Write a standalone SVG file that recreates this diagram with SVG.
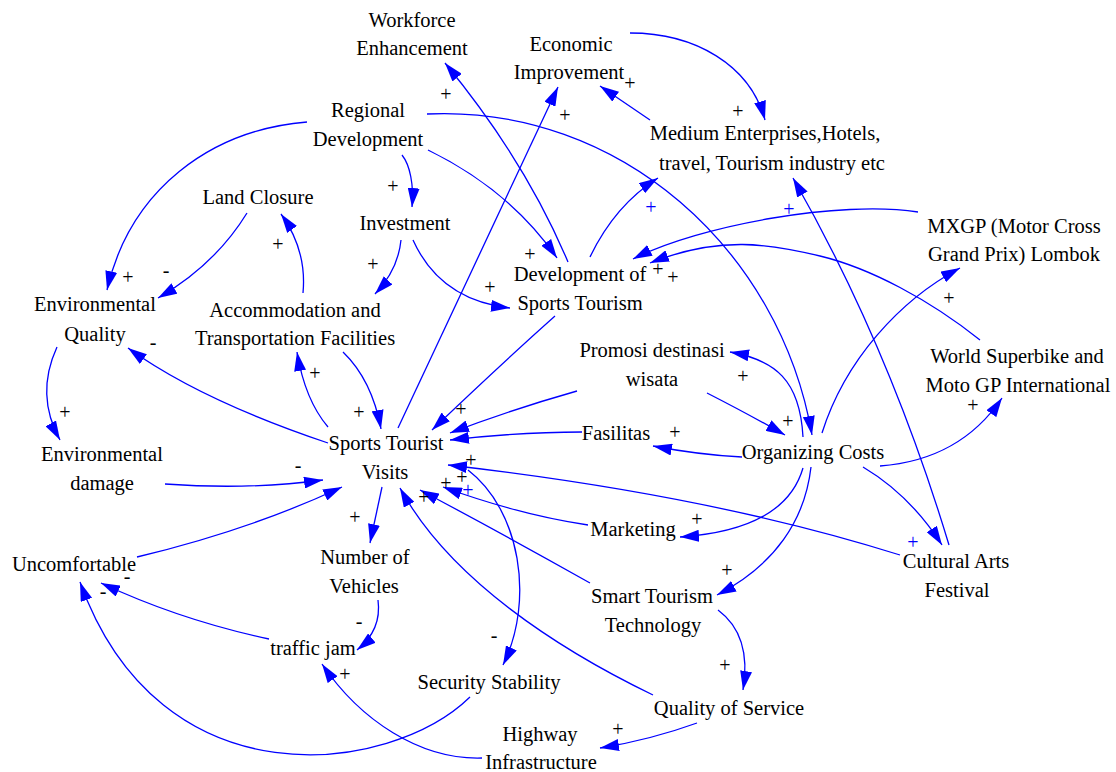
<svg xmlns="http://www.w3.org/2000/svg" width="1116" height="772" viewBox="0 0 1116 772">
<defs>
<style>
.n{font-family:"Liberation Serif","Times New Roman",serif;font-size:20.5px;fill:#000;text-anchor:middle}
.e{fill:none;stroke:#0000FF;stroke-width:1.3;marker-end:url(#ah)}
.p{font-family:"Liberation Serif","Times New Roman",serif;font-size:20px;fill:#000;text-anchor:middle}
.pb{fill:#0000FF}
</style>
<marker id="ah" viewBox="0 0 19 12" refX="19" refY="6" markerWidth="19" markerHeight="12" markerUnits="userSpaceOnUse" orient="auto">
<path d="M0,0 L19,6 L0,12 z" fill="#0000FF"/>
</marker>
</defs>
<rect width="1116" height="772" fill="#fff"/>
<g id="connectors">
<path class="e" d="M307,122 C210,130 130,190 107,290"/>
<path class="e" d="M402,155 C410,165 414,185 412,207"/>
<path class="e" d="M428,150 Q510,190 557,258"/>
<path class="e" d="M427,114 C620,105 780,250 812,435"/>
<path class="e" d="M247,213 Q215,265 158,298"/>
<path class="e" d="M303,293 Q307,250 281,214"/>
<path class="e" d="M343,352 Q372,380 381,429"/>
<path class="e" d="M401,240 Q398,270 375,294"/>
<path class="e" d="M413,240 Q440,300 510,308"/>
<path class="e" d="M568,262 Q525,160 445,63"/>
<path class="e" d="M590,257 Q615,205 658,178"/>
<path class="e" d="M555,316 Q500,365 432,430"/>
<path class="e" d="M398,428 L558,87"/>
<path class="e" d="M328,443 Q200,400 128,348"/>
<path class="e" d="M328,427 Q305,400 297,352"/>
<path class="e" d="M382,487 L370,543"/>
<path class="e" d="M468,470 C520,510 535,600 503,665"/>
<path class="e" d="M577,391 Q510,410 450,433"/>
<path class="e" d="M582,432 Q520,432 450,440"/>
<path class="e" d="M900,555 Q710,495 448,465"/>
<path class="e" d="M588,525 Q520,515 443,487"/>
<path class="e" d="M590,583 Q505,535 420,490"/>
<path class="e" d="M653,695 C560,650 450,580 400,488"/>
<path class="e" d="M165,484 Q250,490 323,480"/>
<path class="e" d="M137,557 Q250,530 342,487"/>
<path class="e" d="M378,600 Q382,630 357,650"/>
<path class="e" d="M269,639 Q180,620 101,583"/>
<path class="e" d="M470,697 C390,775 160,805 80,582"/>
<path class="e" d="M482,758 C420,760 360,720 322,664"/>
<path class="e" d="M697,723 Q650,740 600,748"/>
<path class="e" d="M718,610 C745,630 748,660 743,690"/>
<path class="e" d="M742,457 Q700,455 653,446"/>
<path class="e" d="M803,468 Q785,530 680,537"/>
<path class="e" d="M811,467 C805,520 775,565 717,595"/>
<path class="e" d="M863,467 Q910,495 942,545"/>
<path class="e" d="M880,466 Q960,460 1002,398"/>
<path class="e" d="M822,433 C845,360 900,300 960,268"/>
<path class="e" d="M803,437 C800,380 775,360 730,352"/>
<path class="e" d="M707,393 Q750,415 785,435"/>
<path class="e" d="M949,545 Q889,346 793,178"/>
<path class="e" d="M918,212 C840,200 700,225 633,259"/>
<path class="e" d="M980,340 C930,300 870,268 820,256 S720,235 650,263"/>
<path class="e" d="M650,120 L600,86"/>
<path class="e" d="M630,33 C695,33 750,65 765,120"/>
<path class="e" d="M57,347 Q35,395 60,440"/>
<g id="polarity">
<text class="p" x="128" y="284">+</text>
<text class="p" x="166" y="277">-</text>
<text class="p" x="393" y="193">+</text>
<text class="p" x="530" y="261">+</text>
<text class="p" x="278" y="251">+</text>
<text class="p" x="373" y="271">+</text>
<text class="p" x="490" y="294">+</text>
<text class="p" x="446" y="101">+</text>
<text class="p" x="565" y="122">+</text>
<text class="p" x="630" y="90">+</text>
<text class="p" x="738" y="118">+</text>
<text class="p pb" x="651" y="214">+</text>
<text class="p pb" x="789" y="216">+</text>
<text class="p" x="658" y="276">+</text>
<text class="p" x="673" y="284">+</text>
<text class="p" x="153" y="349">-</text>
<text class="p" x="315" y="380">+</text>
<text class="p" x="359" y="419">+</text>
<text class="p" x="461" y="416">+</text>
<text class="p" x="65" y="419">+</text>
<text class="p" x="743" y="383">+</text>
<text class="p" x="788" y="428">+</text>
<text class="p" x="949" y="305">+</text>
<text class="p" x="973" y="412">+</text>
<text class="p" x="675" y="439">+</text>
<text class="p" x="298" y="472">-</text>
<text class="p" x="471" y="467">+</text>
<text class="p" x="462" y="484">+</text>
<text class="p" x="446" y="490">+</text>
<text class="p pb" x="468" y="497">+</text>
<text class="p" x="424" y="504">+</text>
<text class="p" x="355" y="524">+</text>
<text class="p" x="127" y="583">-</text>
<text class="p" x="103" y="598">-</text>
<text class="p" x="697" y="526">+</text>
<text class="p" x="727" y="577">+</text>
<text class="p pb" x="913" y="549">+</text>
<text class="p" x="359" y="628">-</text>
<text class="p" x="345" y="681">+</text>
<text class="p" x="494" y="642">-</text>
<text class="p" x="725" y="672">+</text>
<text class="p" x="618" y="736">+</text>
</g>
</g>
<g id="workforce-enhancement"><text class="n" x="412" y="27">Workforce</text><text class="n" x="412" y="55">Enhancement</text></g>
<g id="economic-improvement"><text class="n" x="571" y="51">Economic</text><text class="n" x="569" y="79">Improvement</text></g>
<g id="regional-development"><text class="n" x="368" y="117">Regional</text><text class="n" x="368" y="146">Development</text></g>
<g id="medium-enterprises"><text class="n" x="765" y="140">Medium Enterprises,Hotels,</text><text class="n" x="772" y="170">travel, Tourism industry etc</text></g>
<g id="land-closure"><text class="n" x="258" y="204">Land Closure</text></g>
<g id="investment"><text class="n" x="405" y="230">Investment</text></g>
<g id="environmental-quality"><text class="n" x="95" y="311">Environmental</text><text class="n" x="95" y="341">Quality</text></g>
<g id="accommodation"><text class="n" x="295" y="317">Accommodation and</text><text class="n" x="295" y="345">Transportation Facilities</text></g>
<g id="development-sports-tourism"><text class="n" x="580" y="281">Development of</text><text class="n" x="580" y="310">Sports Tourism</text></g>
<g id="mxgp"><text class="n" x="1014" y="233">MXGP (Motor Cross</text><text class="n" x="1014" y="261">Grand Prix) Lombok</text></g>
<g id="promosi"><text class="n" x="652" y="357">Promosi destinasi</text><text class="n" x="652" y="386">wisata</text></g>
<g id="world-superbike"><text class="n" x="1017" y="363">World Superbike and</text><text class="n" x="1018" y="392">Moto GP International</text></g>
<g id="fasilitas"><text class="n" x="616" y="440">Fasilitas</text></g>
<g id="organizing-costs"><text class="n" x="813" y="459">Organizing Costs</text></g>
<g id="sports-tourist-visits"><text class="n" x="386" y="450">Sports Tourist</text><text class="n" x="385" y="479">Visits</text></g>
<g id="environmental-damage"><text class="n" x="102" y="461">Environmental</text><text class="n" x="102" y="490">damage</text></g>
<g id="uncomfortable"><text class="n" x="74" y="571">Uncomfortable</text></g>
<g id="number-of-vehicles"><text class="n" x="365" y="564">Number of</text><text class="n" x="364" y="593">Vehicles</text></g>
<g id="marketing"><text class="n" x="633" y="536">Marketing</text></g>
<g id="smart-tourism"><text class="n" x="652" y="603">Smart Tourism</text><text class="n" x="653" y="632">Technology</text></g>
<g id="cultural-arts"><text class="n" x="956" y="568">Cultural Arts</text><text class="n" x="957" y="597">Festival</text></g>
<g id="traffic-jam"><text class="n" x="313" y="655">traffic jam</text></g>
<g id="security-stability"><text class="n" x="489" y="689">Security Stability</text></g>
<g id="quality-of-service"><text class="n" x="729" y="715">Quality of Service</text></g>
<g id="highway"><text class="n" x="540" y="741">Highway</text><text class="n" x="541" y="769">Infrastructure</text></g>
</svg>
